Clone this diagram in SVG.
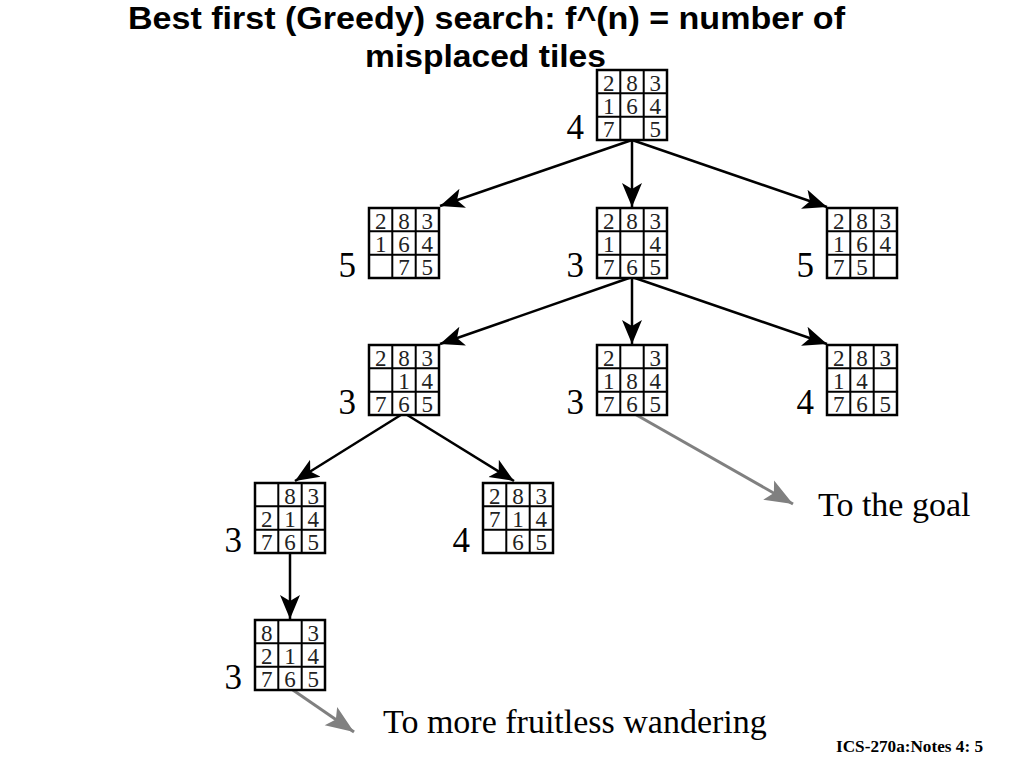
<svg xmlns="http://www.w3.org/2000/svg" xmlns:xlink="http://www.w3.org/1999/xlink" width="1024" height="768" viewBox="0 0 1024 768">
<style>
.title{font-family:"Liberation Sans",Arial,sans-serif;font-weight:bold;font-size:31px;fill:#000}
.d{font-family:"Liberation Serif","Times New Roman",serif;font-size:23px;fill:#222;text-anchor:middle}
.lab{font-family:"Liberation Serif","Times New Roman",serif;font-size:35px;fill:#000;text-anchor:end}
.note{font-family:"Liberation Serif","Times New Roman",serif;font-size:34px;fill:#000}
.foot{font-family:"Liberation Serif","Times New Roman",serif;font-size:16px;font-weight:bold;fill:#000}
.edge{stroke:#000;stroke-width:2.5;fill:none}
.gedge{stroke:#808080;stroke-width:3;fill:none}
</style>
<defs>
<marker id="ah" markerUnits="userSpaceOnUse" markerWidth="26" markerHeight="22" viewBox="0 0 26 22" refX="24" refY="11" orient="auto">
<path d="M0,1 L24,11 L0,21 L6,11 z" fill="#000"/>
</marker>
<marker id="gah" markerUnits="userSpaceOnUse" markerWidth="30" markerHeight="24" viewBox="0 0 30 24" refX="28" refY="12" orient="auto">
<path d="M0,1 L28,12 L0,23 L6,12 z" fill="#808080"/>
</marker>
<g id="board">
<rect x="0" y="0" width="70" height="70" fill="#fff" stroke="#000" stroke-width="2.5"/>
<path d="M23.3,0V70M46.7,0V70M0,23.3H70M0,46.7H70" stroke="#000" stroke-width="2"/>
</g>
</defs>
<rect width="1024" height="768" fill="#fff"/>
<text class="title" x="128" y="29" textLength="717" lengthAdjust="spacingAndGlyphs">Best first (Greedy) search: f^(n) = number of</text>
<text class="title" x="365" y="67" textLength="241" lengthAdjust="spacingAndGlyphs">misplaced tiles</text>

<g id="connectors">
<line class="edge" x1="632" y1="140" x2="440" y2="206" marker-end="url(#ah)"/>
<line class="edge" x1="632" y1="140" x2="632" y2="207" marker-end="url(#ah)"/>
<line class="edge" x1="632" y1="140" x2="827" y2="207" marker-end="url(#ah)"/>
<line class="edge" x1="632" y1="277" x2="440" y2="344" marker-end="url(#ah)"/>
<line class="edge" x1="632" y1="277" x2="632" y2="344" marker-end="url(#ah)"/>
<line class="edge" x1="632" y1="277" x2="827" y2="344" marker-end="url(#ah)"/>
<line class="edge" x1="404" y1="413" x2="295" y2="481" marker-end="url(#ah)"/>
<line class="edge" x1="404" y1="413" x2="514" y2="481" marker-end="url(#ah)"/>
<line class="edge" x1="290" y1="551" x2="290" y2="619" marker-end="url(#ah)"/>
<line class="gedge" x1="633" y1="413" x2="793" y2="504" marker-end="url(#gah)"/>
<line class="gedge" x1="290" y1="688" x2="354" y2="732" marker-end="url(#gah)"/>
</g>

<g id="n0" transform="translate(597,70)"><use href="#board"/>
<text class="d" x="11.7" y="20.5">2</text><text class="d" x="35" y="20.5">8</text><text class="d" x="58.3" y="20.5">3</text>
<text class="d" x="11.7" y="43.8">1</text><text class="d" x="35" y="43.8">6</text><text class="d" x="58.3" y="43.8">4</text>
<text class="d" x="11.7" y="67.2">7</text><text class="d" x="58.3" y="67.2">5</text>
<text class="lab" x="-13" y="69">4</text></g>

<g id="n1" transform="translate(369,208)"><use href="#board"/>
<text class="d" x="11.7" y="20.5">2</text><text class="d" x="35" y="20.5">8</text><text class="d" x="58.3" y="20.5">3</text>
<text class="d" x="11.7" y="43.8">1</text><text class="d" x="35" y="43.8">6</text><text class="d" x="58.3" y="43.8">4</text>
<text class="d" x="35" y="67.2">7</text><text class="d" x="58.3" y="67.2">5</text>
<text class="lab" x="-13" y="69">5</text></g>

<g id="n2" transform="translate(597,208)"><use href="#board"/>
<text class="d" x="11.7" y="20.5">2</text><text class="d" x="35" y="20.5">8</text><text class="d" x="58.3" y="20.5">3</text>
<text class="d" x="11.7" y="43.8">1</text><text class="d" x="58.3" y="43.8">4</text>
<text class="d" x="11.7" y="67.2">7</text><text class="d" x="35" y="67.2">6</text><text class="d" x="58.3" y="67.2">5</text>
<text class="lab" x="-13" y="69">3</text></g>

<g id="n3" transform="translate(827,208)"><use href="#board"/>
<text class="d" x="11.7" y="20.5">2</text><text class="d" x="35" y="20.5">8</text><text class="d" x="58.3" y="20.5">3</text>
<text class="d" x="11.7" y="43.8">1</text><text class="d" x="35" y="43.8">6</text><text class="d" x="58.3" y="43.8">4</text>
<text class="d" x="11.7" y="67.2">7</text><text class="d" x="35" y="67.2">5</text>
<text class="lab" x="-13" y="69">5</text></g>

<g id="n4" transform="translate(369,345)"><use href="#board"/>
<text class="d" x="11.7" y="20.5">2</text><text class="d" x="35" y="20.5">8</text><text class="d" x="58.3" y="20.5">3</text>
<text class="d" x="35" y="43.8">1</text><text class="d" x="58.3" y="43.8">4</text>
<text class="d" x="11.7" y="67.2">7</text><text class="d" x="35" y="67.2">6</text><text class="d" x="58.3" y="67.2">5</text>
<text class="lab" x="-13" y="69">3</text></g>

<g id="n5" transform="translate(597,345)"><use href="#board"/>
<text class="d" x="11.7" y="20.5">2</text><text class="d" x="58.3" y="20.5">3</text>
<text class="d" x="11.7" y="43.8">1</text><text class="d" x="35" y="43.8">8</text><text class="d" x="58.3" y="43.8">4</text>
<text class="d" x="11.7" y="67.2">7</text><text class="d" x="35" y="67.2">6</text><text class="d" x="58.3" y="67.2">5</text>
<text class="lab" x="-13" y="69">3</text></g>

<g id="n6" transform="translate(827,345)"><use href="#board"/>
<text class="d" x="11.7" y="20.5">2</text><text class="d" x="35" y="20.5">8</text><text class="d" x="58.3" y="20.5">3</text>
<text class="d" x="11.7" y="43.8">1</text><text class="d" x="35" y="43.8">4</text>
<text class="d" x="11.7" y="67.2">7</text><text class="d" x="35" y="67.2">6</text><text class="d" x="58.3" y="67.2">5</text>
<text class="lab" x="-13" y="69">4</text></g>

<g id="n7" transform="translate(255,483)"><use href="#board"/>
<text class="d" x="35" y="20.5">8</text><text class="d" x="58.3" y="20.5">3</text>
<text class="d" x="11.7" y="43.8">2</text><text class="d" x="35" y="43.8">1</text><text class="d" x="58.3" y="43.8">4</text>
<text class="d" x="11.7" y="67.2">7</text><text class="d" x="35" y="67.2">6</text><text class="d" x="58.3" y="67.2">5</text>
<text class="lab" x="-13" y="69">3</text></g>

<g id="n8" transform="translate(483,483)"><use href="#board"/>
<text class="d" x="11.7" y="20.5">2</text><text class="d" x="35" y="20.5">8</text><text class="d" x="58.3" y="20.5">3</text>
<text class="d" x="11.7" y="43.8">7</text><text class="d" x="35" y="43.8">1</text><text class="d" x="58.3" y="43.8">4</text>
<text class="d" x="35" y="67.2">6</text><text class="d" x="58.3" y="67.2">5</text>
<text class="lab" x="-13" y="69">4</text></g>

<g id="n9" transform="translate(255,620)"><use href="#board"/>
<text class="d" x="11.7" y="20.5">8</text><text class="d" x="58.3" y="20.5">3</text>
<text class="d" x="11.7" y="43.8">2</text><text class="d" x="35" y="43.8">1</text><text class="d" x="58.3" y="43.8">4</text>
<text class="d" x="11.7" y="67.2">7</text><text class="d" x="35" y="67.2">6</text><text class="d" x="58.3" y="67.2">5</text>
<text class="lab" x="-13" y="69">3</text></g>

<text class="note" x="818" y="516">To the goal</text>
<text class="note" x="383" y="733">To more fruitless wandering</text>
<text class="foot" x="836" y="752" textLength="147" lengthAdjust="spacingAndGlyphs">ICS-270a:Notes 4: 5</text>
</svg>
